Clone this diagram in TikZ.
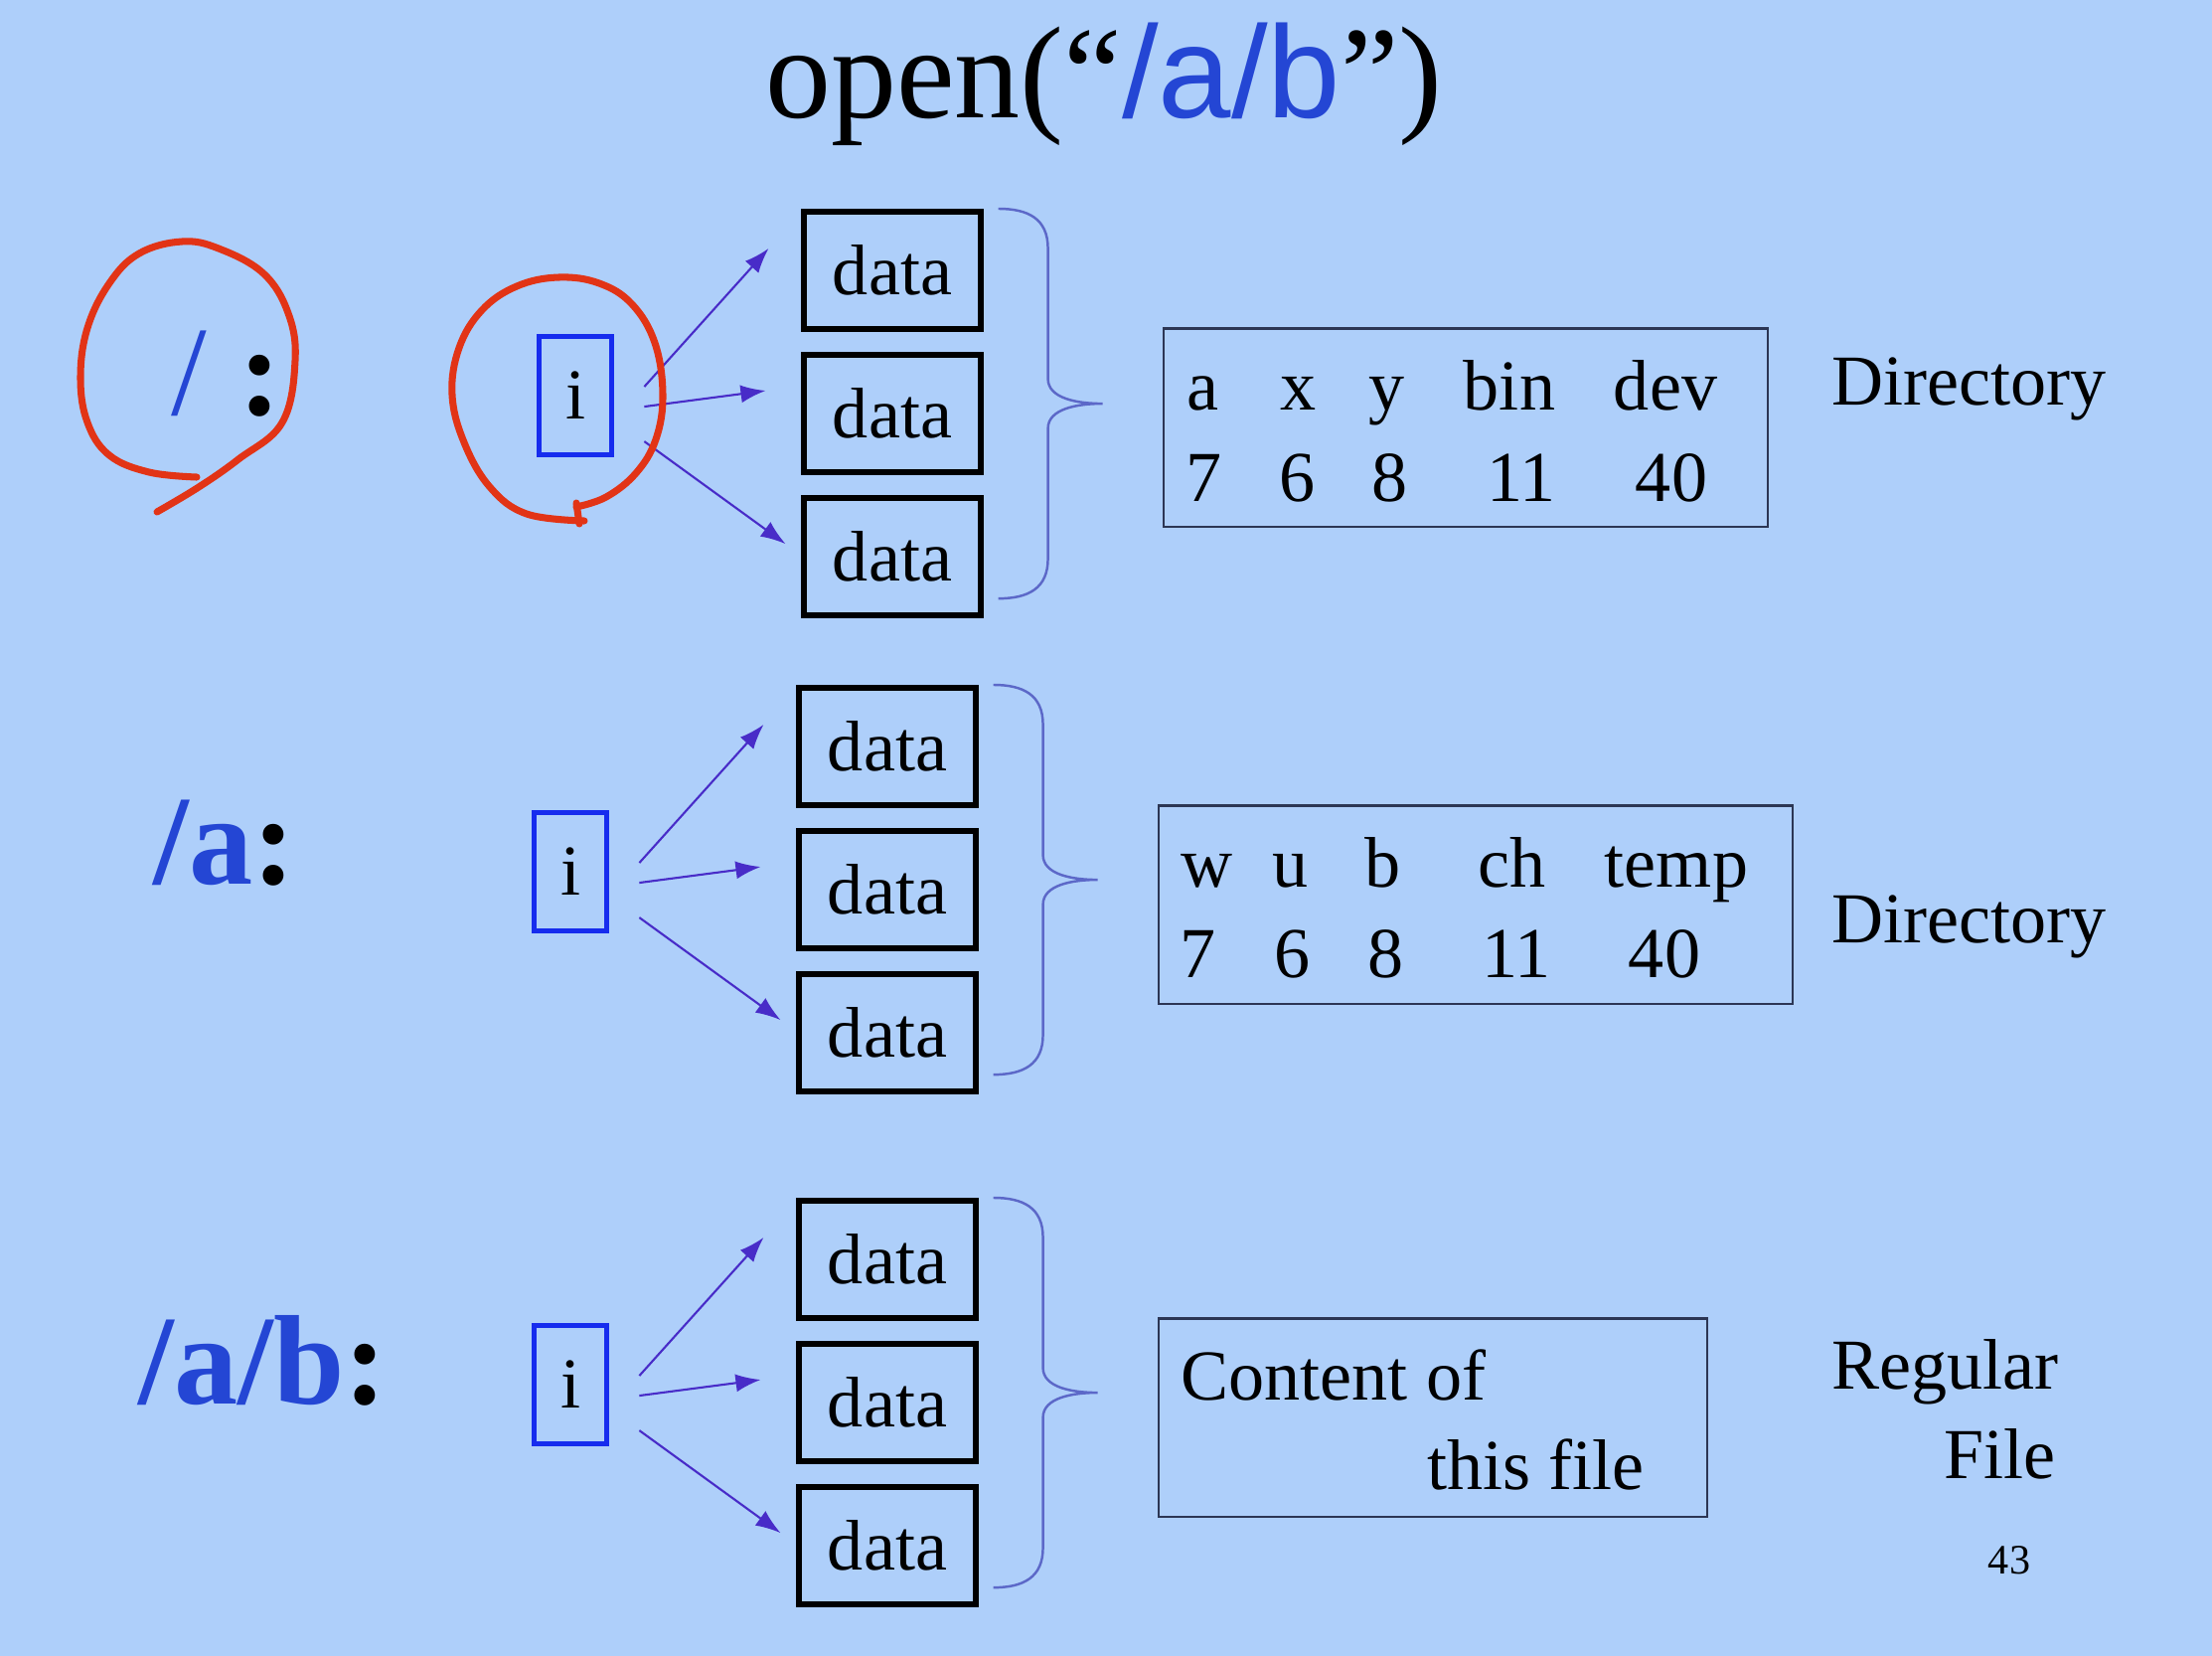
\documentclass[tikz,border=0pt]{standalone}
\usepackage{fontspec}
\setmainfont{Liberation Serif}
\setsansfont{Liberation Sans}
\usetikzlibrary{positioning,arrows.meta,calc}

\definecolor{slidebg}{RGB}{174,207,250}
\definecolor{penred}{RGB}{226,52,22}
\definecolor{inodeblue}{RGB}{22,44,238}
\definecolor{pathblue}{RGB}{36,70,212}
\definecolor{ptrviolet}{RGB}{72,44,200}
\definecolor{bracecol}{RGB}{92,104,200}
\definecolor{tblline}{RGB}{44,54,84}

\begin{document}
\begin{tikzpicture}[
  x=0.01cm, y=-0.01cm,
  node distance=0.2cm and 1.88cm,
  databox/.style={draw,line width=1.7pt,minimum width=1.77cm,minimum height=1.18cm,inner sep=0pt,font=\fontsize{20.5}{24}\selectfont},
  inode/.style={draw=inodeblue,line width=1.4pt,minimum width=0.73cm,minimum height=1.19cm,inner sep=0pt,font=\fontsize{20.5}{24}\selectfont},
  dirbox/.style={draw=tblline,line width=0.6pt,minimum height=1.99cm,inner sep=0pt},
  cell/.style={anchor=base,inner sep=0pt,font=\fontsize{20.5}{24}\selectfont},
  kind/.style={inner sep=0pt,font=\fontsize{20.5}{24}\selectfont},
  rowlabel/.style={anchor=base west,inner sep=0pt,text=pathblue,font=\fontsize{36.5}{40}\selectfont\bfseries},
  ptr/.style={-{Latex[length=0.25cm,width=0.18cm]},draw=ptrviolet,line width=0.6pt},
  blocks/.style={draw=bracecol,line width=0.7pt,to path={
    let \p1=(\tikztostart), \p2=(\tikztotarget), \n1={0.5*(\y1+\y2)} in
    .. controls (\x1+0.3cm,\y1) and (\x1+0.5cm,\y1-0.1cm) .. (\x1+0.5cm,\y1-0.4cm)
    -- (\x1+0.5cm,\n1+0.25cm) .. controls (\x1+0.5cm,\n1+0.05cm) and (\x1+0.8cm,\n1) .. (\x1+1.05cm,\n1)
    .. controls (\x1+0.8cm,\n1) and (\x1+0.5cm,\n1-0.05cm) .. (\x1+0.5cm,\n1-0.25cm)
    -- (\x1+0.5cm,\y2+0.4cm) .. controls (\x1+0.5cm,\y2+0.1cm) and (\x1+0.3cm,\y2) .. (\tikztotarget)}},
  pen/.style={draw=penred,line width=2pt,line cap=round,line join=round}
]
\fill[slidebg] (0,0) rectangle (2226,1666);

% title
\node[anchor=base,inner sep=0pt,font=\fontsize{37.5}{42}\selectfont] (title) at (1111,118)
  {open(“{\sffamily\color{pathblue}/a/b}”)};

% row 1: the root directory
\node[rowlabel] (lroot) at (172,417) {{\mdseries/} \textcolor{black}{:}};
\node[databox] (d11) at (898,272) {data};
\node[databox,below=of d11] (d12) {data};
\node[databox,below=of d12] (d13) {data};
\node[inode,left=of d12,yshift=0.18cm] (i1) {i};
\draw[ptr] ([xshift=0.3cm,yshift=0.09cm]i1.east) -- ([xshift=-0.33cm,yshift=0.22cm]d11.west);
\draw[ptr] ([xshift=0.3cm,yshift=-0.11cm]i1.east) -- ([xshift=-0.36cm,yshift=0.23cm]d12.west);
\draw[ptr] ([xshift=0.3cm,yshift=-0.46cm]i1.east) -- ([xshift=-0.16cm,yshift=0.13cm]d13.west);
\draw[blocks] ([xshift=0.15cm]d11.north east) to ([xshift=0.15cm,yshift=0.2cm]d13.south east);
\node[dirbox,minimum width=6.08cm] (dir1) at (1475,430) {};
\foreach \x/\w [count=\k] in {1210/a,1307/x,1396/y,1519/bin,1676/dev}
  \node[cell] (n1\k) at (\x,412) {\w};
\foreach \x/\w [count=\k] in {1212/7,1306/6,1399/8,1531/11,1682/40}
  \node[cell] (v1\k) at (\x,504) {\w};
\node[kind,anchor=base west] (k1) at (1843,407) {Directory};

% hand-drawn marks
\draw[pen] plot[smooth,tension=0.65] coordinates {(198,480) (150,475) (110,458) (88,425) (81,380) (88,330) (110,285) (140,255) (183,243) (220,250) (265,275) (290,315) (297,363) (284,425) (240,462) (200,490) (158,515)};
\draw[pen] plot[smooth,tension=0.65] coordinates {(588,524) (530,517) (493,490) (467,445) (455,397) (462,350) (485,312) (520,288) (562,279) (603,285) (636,306) (659,345) (667,397) (660,442) (640,476) (610,500) (580,510)};
\draw[pen] (580,506) -- (583,527);

% row 2: /a
\node[rowlabel] (la) at (154,889) {/a\textcolor{black}{:}};
\node[databox] (d21) at (893,751) {data};
\node[databox,below=of d21] (d22) {data};
\node[databox,below=of d22] (d23) {data};
\node[inode,left=of d22,yshift=0.18cm] (i2) {i};
\draw[ptr] ([xshift=0.3cm,yshift=0.09cm]i2.east) -- ([xshift=-0.33cm,yshift=0.22cm]d21.west);
\draw[ptr] ([xshift=0.3cm,yshift=-0.11cm]i2.east) -- ([xshift=-0.36cm,yshift=0.23cm]d22.west);
\draw[ptr] ([xshift=0.3cm,yshift=-0.46cm]i2.east) -- ([xshift=-0.16cm,yshift=0.13cm]d23.west);
\draw[blocks] ([xshift=0.15cm]d21.north east) to ([xshift=0.15cm,yshift=0.2cm]d23.south east);
\node[dirbox,minimum width=6.37cm] (dir2) at (1485,910) {};
\foreach \x/\w [count=\k] in {1215/w,1299/u,1392/b,1522/ch,1687/temp}
  \node[cell] (n2\k) at (\x,892) {\w};
\foreach \x/\w [count=\k] in {1206/7,1301/6,1395/8,1526/11,1675/40}
  \node[cell] (v2\k) at (\x,983) {\w};
\node[kind,anchor=base west] (k2) at (1843,948) {Directory};

% row 3: /a/b
\node[rowlabel] (lab) at (139,1412) {/a/b\textcolor{black}{:}};
\node[databox] (d31) at (893,1267) {data};
\node[databox,below=of d31] (d32) {data};
\node[databox,below=of d32] (d33) {data};
\node[inode,left=of d32,yshift=0.18cm] (i3) {i};
\draw[ptr] ([xshift=0.3cm,yshift=0.09cm]i3.east) -- ([xshift=-0.33cm,yshift=0.22cm]d31.west);
\draw[ptr] ([xshift=0.3cm,yshift=-0.11cm]i3.east) -- ([xshift=-0.36cm,yshift=0.23cm]d32.west);
\draw[ptr] ([xshift=0.3cm,yshift=-0.46cm]i3.east) -- ([xshift=-0.16cm,yshift=0.13cm]d33.west);
\draw[blocks] ([xshift=0.15cm]d31.north east) to ([xshift=0.15cm,yshift=0.2cm]d33.south east);
\node[dirbox,minimum width=5.52cm] (dir3) at (1442,1426) {};
\node[kind,anchor=base west] (c1) at (1188,1408) {Content of};
\node[kind,anchor=base west] (c2) at (1436,1498) {this file};
\node[kind,anchor=base west] (k3) at (1843,1397) {Regular};
\node[kind,anchor=base east] (k4) at (2069,1487) {File};

\node[anchor=base,inner sep=0pt,font=\fontsize{12}{14}\selectfont] (pg) at (2022,1583) {43};
\end{tikzpicture}
\end{document}
